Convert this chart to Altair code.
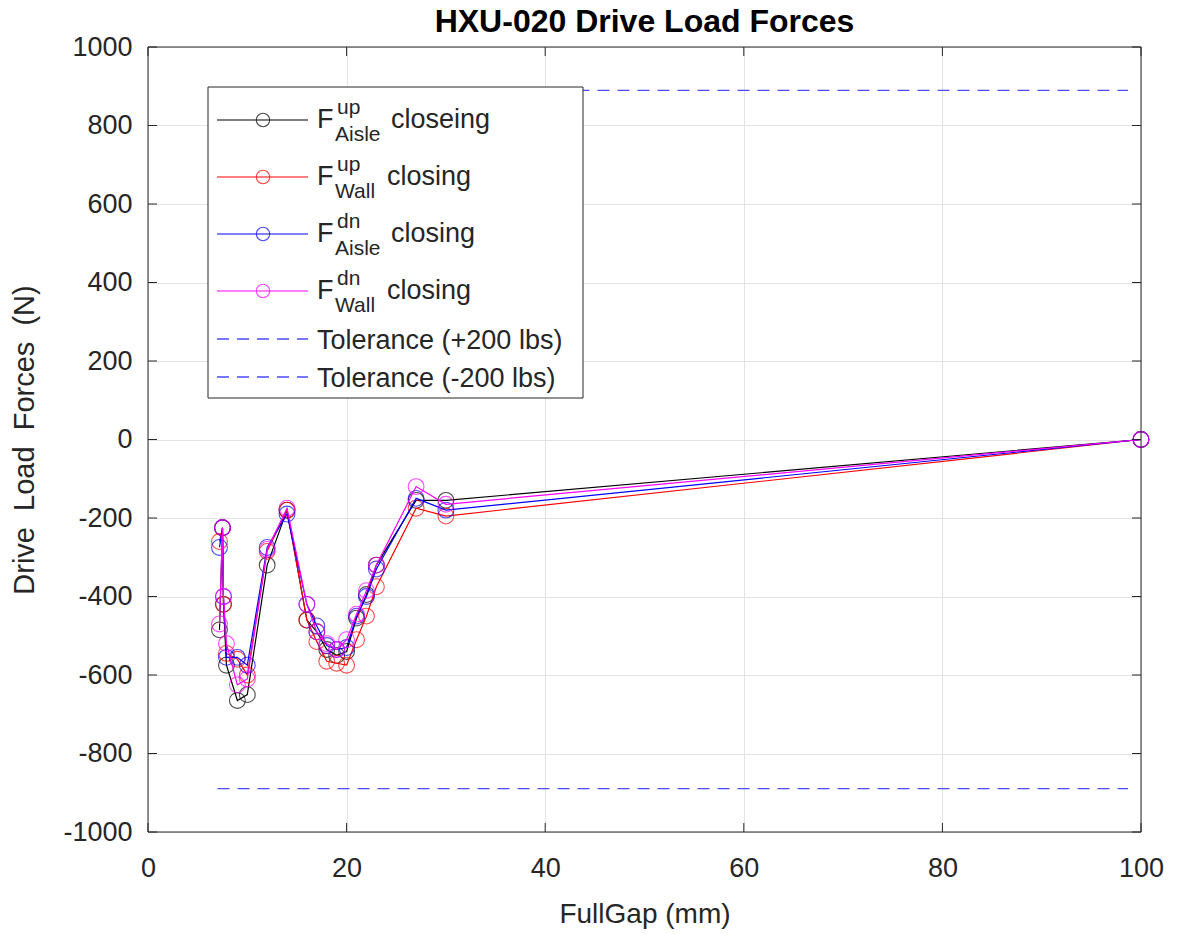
import altair as alt
import pandas as pd

gap = [7.2, 7.5, 7.6, 7.9, 9.0, 10.0, 12.0, 14.0, 16.0, 17.0, 18.0, 19.0, 20.0, 21.0, 22.0, 23.0, 27.0, 30.0, 100.0]
f_aisle_up = [-485, -225, -420, -575, -665, -650, -320, -180, -460, -490, -535, -550, -540, -455, -395, -320, -155, -155, 0]
f_wall_up = [-260, -225, -420, -545, -560, -600, -285, -180, -460, -515, -565, -570, -575, -510, -450, -375, -175, -195, 0]
f_aisle_dn = [-275, -225, -400, -555, -555, -575, -275, -190, -420, -475, -525, -535, -530, -450, -400, -330, -150, -180, 0]
f_wall_dn = [-470, -225, -400, -520, -625, -610, -280, -175, -420, -490, -520, -535, -510, -445, -385, -320, -120, -165, 0]

tol_x = [7.0, 98.7]
tol_value = 889.6

x_ticks = [0, 20, 40, 60, 80, 100]
y_ticks = list(range(-1000, 1001, 200))

series = [
    ("Aisle", "up", "closeing", f_aisle_up, "#000000"),
    ("Wall", "up", "closing", f_wall_up, "#ff0000"),
    ("Aisle", "dn", "closing", f_aisle_dn, "#0000ff"),
    ("Wall", "dn", "closing", f_wall_dn, "#ff00ff"),
]
tol_color = "#4a4aff"
FONT = "Liberation Sans"
TXT = "#262626"
W, H = 993, 785

xs = alt.Scale(domain=[0, 100], nice=False)
ys = alt.Scale(domain=[-1000, 1000], nice=False)

x_axis = alt.Axis(title="FullGap (mm)", values=x_ticks, grid=True, labelFlush=False,
                  labelExpr="datum.value + ''",
                  gridColor="#e3e3e3", ticks=False, domain=False, labelFontSize=27,
                  labelFont=FONT, labelColor=TXT, labelPadding=23, titleFontSize=28,
                  titleFont=FONT, titleColor=TXT, titleFontWeight="normal", titlePadding=19)
y_axis = alt.Axis(title="Drive\u00a0\u00a0Load\u00a0\u00a0Forces\u00a0\u00a0(N)", values=y_ticks, grid=True,
                  labelFlush=False, labelExpr="datum.value + ''",
                  gridColor="#e3e3e3", ticks=False, domain=False, labelFontSize=27,
                  labelFont=FONT, labelColor=TXT, labelPadding=16, titleFontSize=29,
                  titleFont=FONT, titleColor=TXT, titleFontWeight="normal", titlePadding=23)

layers = []

tol_df = pd.DataFrame({
    "x": tol_x + tol_x,
    "y": [tol_value, tol_value, -tol_value, -tol_value],
    "g": ["plus", "plus", "minus", "minus"],
})
layers.append(
    alt.Chart(tol_df).mark_line(color=tol_color, strokeDash=[12, 8], strokeWidth=1.3).encode(
        x=alt.X("x:Q", scale=xs, axis=x_axis),
        y=alt.Y("y:Q", scale=ys, axis=y_axis),
        detail="g:N",
    )
)

for loc, dirn, word, vals, col in series:
    df = pd.DataFrame({"x": gap, "y": vals, "i": list(range(len(gap)))})
    base = alt.Chart(df).encode(
        x=alt.X("x:Q", scale=xs, axis=x_axis),
        y=alt.Y("y:Q", scale=ys, axis=y_axis),
    )
    layers.append(base.mark_line(color=col, strokeWidth=1.2, clip=False).encode(order="i:Q"))
    layers.append(base.mark_point(shape="circle", size=250, color=col, filled=False,
                                  strokeWidth=1.1, clip=False))

# frame and inward ticks
one = pd.DataFrame({"a": [0]})
layers.append(alt.Chart(one).mark_rect(fill=None, stroke=TXT, strokeWidth=1).encode(
    x=alt.value(0), x2=alt.value(W), y=alt.value(0), y2=alt.value(H)))
xt = pd.DataFrame({"x": x_ticks})
yt = pd.DataFrame({"y": y_ticks})
for y0, y1 in [(H, H - 9), (0, 9)]:
    layers.append(alt.Chart(xt).mark_rule(color=TXT, strokeWidth=1).encode(
        x=alt.X("x:Q", scale=xs, axis=x_axis), y=alt.value(y0), y2=alt.value(y1)))
for x0, x1 in [(0, 9), (W, W - 9)]:
    layers.append(alt.Chart(yt).mark_rule(color=TXT, strokeWidth=1).encode(
        y=alt.Y("y:Q", scale=ys, axis=y_axis), x=alt.value(x0), x2=alt.value(x1)))

# legend box
layers.append(alt.Chart(one).mark_rect(fill="white", stroke=TXT, strokeWidth=1).encode(
    x=alt.value(60), x2=alt.value(435), y=alt.value(40), y2=alt.value(351)))

rows_y = [73, 130, 187, 244]
for (loc, dirn, word, vals, col), ry in zip(series, rows_y):
    layers.append(alt.Chart(one).mark_rule(color=col, strokeWidth=1.1).encode(
        x=alt.value(69), x2=alt.value(160), y=alt.value(ry)))
    layers.append(alt.Chart(one).mark_point(shape="circle", size=180, color=col, filled=False,
                                            strokeWidth=1.1).encode(
        x=alt.value(115), y=alt.value(ry)))
    layers.append(alt.Chart(one).mark_text(text="F", font=FONT, fontSize=27, color=TXT,
                                           align="left", baseline="middle").encode(
        x=alt.value(169), y=alt.value(ry)))
    layers.append(alt.Chart(one).mark_text(text=dirn, font=FONT, fontSize=21, color=TXT,
                                           align="left", baseline="middle").encode(
        x=alt.value(189), y=alt.value(ry - 12)))
    layers.append(alt.Chart(one).mark_text(text=loc, font=FONT, fontSize=21, color=TXT,
                                           align="left", baseline="middle").encode(
        x=alt.value(187), y=alt.value(ry + 15)))
    layers.append(alt.Chart(one).mark_text(text=word, font=FONT, fontSize=27, color=TXT,
                                           align="left", baseline="middle").encode(
        x=alt.value(243 if loc == "Aisle" else 239), y=alt.value(ry)))

for label, ry in [("Tolerance (+200 lbs)", 292), ("Tolerance (-200 lbs)", 330)]:
    layers.append(alt.Chart(one).mark_rule(color=tol_color, strokeWidth=1.3, strokeDash=[12, 8]).encode(
        x=alt.value(69), x2=alt.value(160), y=alt.value(ry)))
    layers.append(alt.Chart(one).mark_text(text=label, font=FONT, fontSize=27, color=TXT,
                                           align="left", baseline="middle").encode(
        x=alt.value(169), y=alt.value(ry + 2)))

chart = alt.layer(*layers).properties(
    width=W,
    height=H,
    background="white",
    title=alt.TitleParams("HXU-020 Drive Load Forces", font=FONT, fontSize=32, fontWeight="bold",
                          color="#000000", anchor="middle", offset=10, dy=16),
    autosize=alt.AutoSizeParams(type="none"),
    padding={"left": 148, "top": 47, "right": 38, "bottom": 102},
).configure_view(stroke=None)

chart.save("out.html", embed_options={"renderer": "svg", "actions": False})
